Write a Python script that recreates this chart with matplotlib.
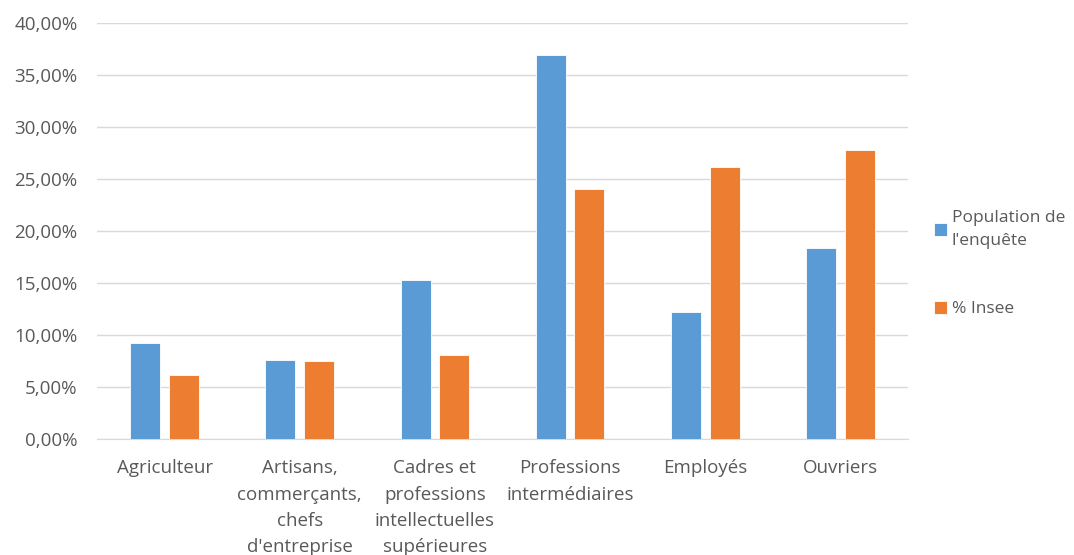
import numpy as np
import matplotlib
matplotlib.use("Agg")
import matplotlib.pyplot as plt
from matplotlib.ticker import FuncFormatter

categories = ["Agriculteur", "Artisans,\ncommerçants,\nchefs\nd'entreprise",
              "Cadres et\nprofessions\nintellectuelles\nsupérieures",
              "Professions\nintermédiaires", "Employés", "Ouvriers"]
enquete = [9.2, 7.6, 15.3, 36.9, 12.2, 18.4]
insee = [6.2, 7.5, 8.1, 24.0, 26.2, 27.8]
series_names = ["Population de\nl'enquête", "% Insee"]

BLUE = '#5B9BD5'
ORANGE = '#ED7D31'
GREY = '#595959'

plt.rcParams['font.family'] = ['Open Sans', 'DejaVu Sans']

fig = plt.figure(figsize=(10.74, 5.55), dpi=100)
ax = fig.add_axes([97 / 1074, 116 / 555, 811 / 1074, 416 / 555])

x = np.arange(len(categories))
w = 0.222
off = 0.143
b1 = ax.bar(x - off, enquete, w, color=BLUE, edgecolor='white', linewidth=0.6,
            label=series_names[0], zorder=3)
b2 = ax.bar(x + off, insee, w, color=ORANGE, edgecolor='white', linewidth=0.6,
            label=series_names[1], zorder=3)

ax.set_xlim(-0.5, len(categories) - 0.5)
ax.set_ylim(0, 40)
ax.set_yticks(np.arange(0, 41, 5))
ax.yaxis.set_major_formatter(FuncFormatter(lambda v, p: f"{v:.2f}%".replace('.', ',')))
ax.grid(axis='y', color='#D9D9D9', linewidth=1, zorder=0)
for s in ['top', 'right', 'left']:
    ax.spines[s].set_visible(False)
ax.spines['bottom'].set_color('#D9D9D9')

ax.set_xticks(x)
ax.set_xticklabels(categories, fontsize=13.5, color=GREY, linespacing=1.6, va='top')
ax.tick_params(axis='x', length=0, pad=14.5)
ax.tick_params(axis='y', length=0, pad=14, labelsize=13.5, labelcolor=GREY)

leg = fig.legend(handles=[b1, b2], loc='upper left', bbox_to_anchor=(918 / 1074, 1 - 194 / 555),
                 frameon=False, fontsize=12.5, handlelength=0.75, handleheight=0.75,
                 handletextpad=0.3, labelspacing=3.0)
for t in leg.get_texts():
    t.set_color(GREY)
    t.set_linespacing(1.6)

fig.savefig('out.png', dpi=100)
